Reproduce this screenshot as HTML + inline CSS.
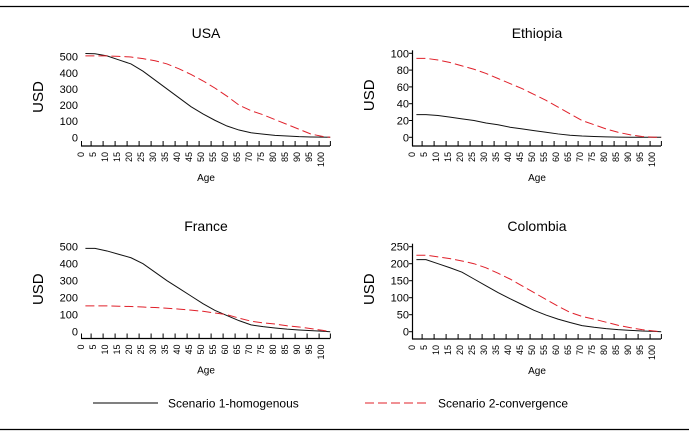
<!DOCTYPE html>
<html><head><meta charset="utf-8"><style>
html,body{margin:0;padding:0;background:#fff;}
svg{display:block;font-family:"Liberation Sans",sans-serif;}
</style></head><body>
<svg id="c" width="689" height="435" viewBox="0 0 689 435">
<line x1="0" y1="6.5" x2="689" y2="6.5" stroke="#000" stroke-width="1.2"/>
<line x1="0" y1="429.5" x2="689" y2="429.5" stroke="#000" stroke-width="1.2"/>
<g>
<line x1="93" y1="403" x2="158" y2="403" stroke="#000" stroke-width="1"/>
<text x="168" y="407.5" font-size="12">Scenario 1-homogenous</text>
<line x1="365" y1="403" x2="430" y2="403" stroke="#e0202a" stroke-width="1" stroke-dasharray="9,4"/>
<text x="438" y="407.5" font-size="12">Scenario 2-convergence</text>
</g>
</svg>
<script>
const ages = [1,5,10,15,20,25,30,35,40,45,50,55,60,65,70,75,80,85,90,95,100,103];
const tickLabels = [0,5,10,15,20,25,30,35,40,45,50,55,60,65,70,75,80,85,90,95,100];
const usaS1 = [520,518,505,480,455,410,355,300,245,190,145,105,70,45,28,20,12,8,4,2,1,0];
const usaS2 = [505,505,505,502,498,488,475,455,425,390,350,305,255,200,165,140,110,80,50,20,5,0];
const ethS1 = [27,27,26,24,22,20,17,15,12,10,8,6,4,2.5,1.5,1,0.5,0.2,0,0,0,0];
const ethS2 = [94,94,92,89,85,81,76,70,64,58,51,44,36,28,20,15,10,6,3,1,0,0];
const fraS1 = [490,490,475,455,435,400,350,300,255,210,165,125,95,65,40,30,22,15,10,6,3,0];
const fraS2 = [152,152,152,150,148,145,142,138,133,127,120,110,100,80,62,52,45,35,28,18,8,0];
const colS1 = [212,212,200,188,175,155,135,115,97,80,63,49,37,27,18,13,9,6,4,2,1,0];
const colS2 = [225,225,220,215,208,200,188,172,155,135,115,95,75,57,45,37,28,19,12,6,2,0];
const usaTicks = [0,100,200,300,400,500];
const ethTicks = [0,20,40,60,80,100];
const fraTicks = [0,100,200,300,400,500];
const colTicks = [0,50,100,150,200,250];

const svg = document.getElementById('c');
const NS = 'http://www.w3.org/2000/svg';
function mk(tag, attrs){const e=document.createElementNS(NS,tag);for(const k in attrs)e.setAttribute(k,attrs[k]);return e;}

function panel(o){
  const g = mk('g',{});
  
  
  svg.appendChild(g);
  const xs = a => o.x0 + 2 + a*2.4;
  const ys = v => o.yZero - (v/o.max)*(o.yZero-o.yTop);
  const t = mk('text',{x:o.x0+125,y:o.titleY,'font-size':14,'text-anchor':'middle'});
  t.textContent = o.title;
  
  
  g.appendChild(t);
  const yl = mk('text',{x:0,y:0,'font-size':15,'text-anchor':'middle',transform:`translate(${o.x0-38},${(o.yZero+o.yTop)/2}) rotate(-90)`});
  yl.textContent='USD';
  
  
  g.appendChild(yl);
  o.yt.forEach(v=>{
    const tx = mk('text',{x:o.x0-3,y:ys(v)+4,'font-size':11,'text-anchor':'end'});
    tx.textContent = v;
    
    
    g.appendChild(tx);
  });
  if(o.vline){
    const vl = mk('line',{x1:o.x0+0.5,y1:o.yTop-3,x2:o.x0+0.5,y2:o.axisY,stroke:'#000','stroke-width':1.2});
    
    
    g.appendChild(vl);
    o.yt.forEach(v=>{
      const tk = mk('line',{x1:o.x0-3,y1:ys(v),x2:o.x0,y2:ys(v),stroke:'#000'});
      
      
      g.appendChild(tk);
    });
  }
  const ax = mk('line',{x1:o.x0,y1:o.axisY,x2:o.x0+249,y2:o.axisY,stroke:'#000','stroke-width':1.2});
  
  
  g.appendChild(ax);
  const tickAges=[0];for(let a=4;a<=100;a+=5)tickAges.push(a);tickAges.push(103.7);
  tickAges.forEach(a=>{
    const x=o.x0+0.5+a*2.4;
    const tk = mk('line',{x1:x,y1:o.axisY,x2:x,y2:o.axisY-5,stroke:'#000'});
    
    
    g.appendChild(tk);
  });
  tickLabels.forEach(a=>{
    const x=o.x0+3+a*2.4;
    const tx = mk('text',{x:0,y:0,'font-size':9,'text-anchor':'end',transform:`translate(${x},${o.axisY+6}) rotate(-90)`});
    tx.textContent=a;
    
    
    g.appendChild(tx);
  });
  const xl = mk('text',{x:o.x0+125,y:o.axisY+35,'font-size':10,'text-anchor':'middle'});
  xl.textContent='Age';
  
  
  g.appendChild(xl);
  const p1 = mk('polyline',{points:ages.map((a,i)=>xs(a)+','+ys(o.s1[i])).join(' '),fill:'none',stroke:'#111','stroke-width':1});
  
  
  g.appendChild(p1);
  const p2 = mk('polyline',{points:ages.map((a,i)=>xs(a)+','+ys(o.s2[i])).join(' '),fill:'none',stroke:'#e0202a','stroke-width':1,'stroke-dasharray':'9,4'});
  
  
  g.appendChild(p2);
}
panel({key:'usa',title:'USA',x0:81,yTop:56.7,yZero:137.3,axisY:146,titleY:38,max:500,yt:usaTicks,s1:usaS1,s2:usaS2,vline:false});
panel({key:'ethiopia',title:'Ethiopia',x0:412,yTop:53.3,yZero:137.3,axisY:146,titleY:38,max:100,yt:ethTicks,s1:ethS1,s2:ethS2,vline:true});
panel({key:'france',title:'France',x0:81,yTop:246.7,yZero:331.7,axisY:338.5,titleY:231,max:500,yt:fraTicks,s1:fraS1,s2:fraS2,vline:false});
panel({key:'colombia',title:'Colombia',x0:412,yTop:246.7,yZero:331.7,axisY:339,titleY:231,max:250,yt:colTicks,s1:colS1,s2:colS2,vline:true});
</script>
</body></html>
